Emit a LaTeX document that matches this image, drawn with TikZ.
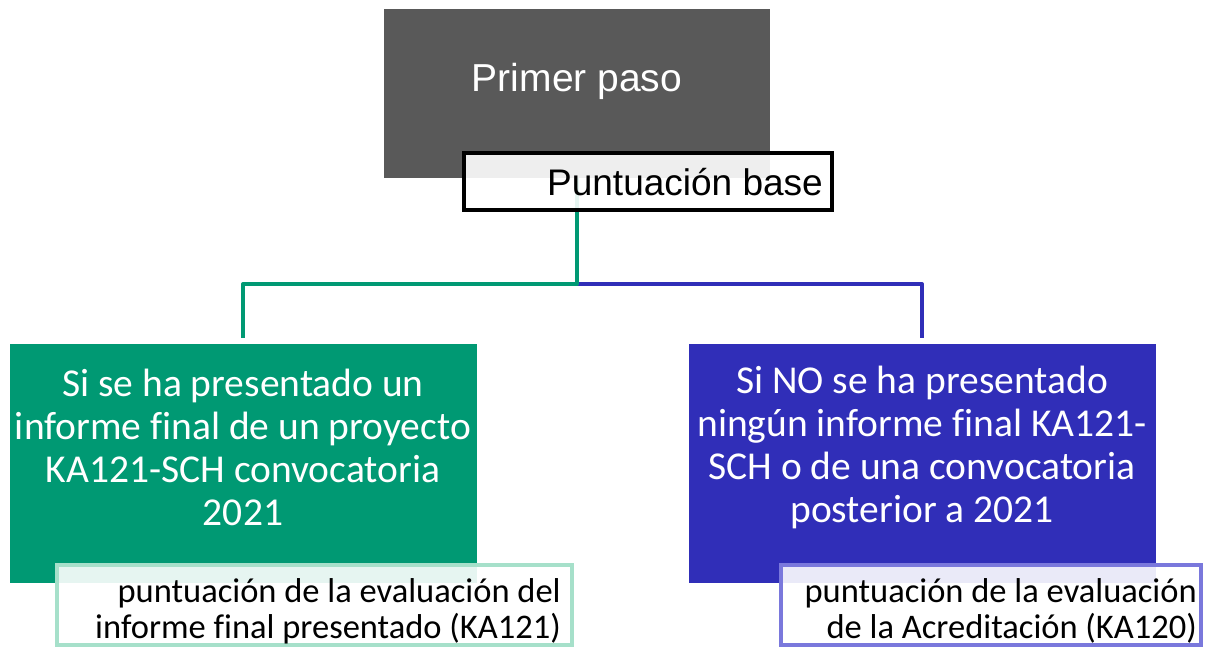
\documentclass[tikz,border=0pt]{standalone}
\usepackage{fontspec}
\setmainfont{Carlito}[Ligatures=NoCommon]
\newfontfamily\arialf{Liberation Sans}
\definecolor{topgrey}{HTML}{595959}
\definecolor{leftgreen}{HTML}{009973}
\definecolor{rightblue}{HTML}{302EB8}
\definecolor{leftlight}{HTML}{A6E0CA}
\definecolor{rightlight}{HTML}{7A78DC}
\tikzset{
  bigbox/.style={rectangle, inner sep=0pt, outer sep=0pt, minimum width=467pt, minimum height=239pt},
  bigtext/.style={text=white, align=center, font=\fontsize{39.5}{43}\selectfont, inner sep=0pt},
  subbox/.style={rectangle, fill=white, fill opacity=0.9, line width=4pt, inner sep=0pt, minimum height=80pt},
  subtext/.style={align=right, font=\fontsize{34.5}{36}\selectfont, inner sep=0pt, anchor=east},
  conn/.style={line width=4pt, line join=round}
}
\begin{document}
\begin{tikzpicture}[x=1pt,y=-1pt]
\useasboundingbox (0,0) rectangle (1206,649);
% top box
\node[rectangle, fill=topgrey, minimum width=386pt, minimum height=169pt, inner sep=0pt, outer sep=0pt] (top) at (577,93.5) {};
\node[text=white, font=\arialf\fontsize{39}{44}\selectfont, inner sep=0pt] (toptext) at (577,81) {Primer paso};
% main boxes
\node[bigbox, fill=leftgreen] (lbox) at (243.5,463.5) {};
\node[bigbox, fill=rightblue] (rbox) at (922.5,463.5) {};
% connectors
\coordinate (j) at (577,284);
\draw[conn, rightblue] (j) -| ([yshift=6pt]rbox.north -| 922,0);
\draw[conn, leftgreen] (top.south) -- (j) -| ([yshift=6pt]lbox.north -| 243,0);
% base box
\node[rectangle, draw=black, line width=4.5pt, fill=white, fill opacity=0.9,
      minimum width=368pt, minimum height=57pt, inner sep=0pt] (base) at (648,181.5) {};
\node[font=\arialf\fontsize{37}{42}\selectfont, inner sep=0pt, anchor=east] (basetext) at (823,182) {Puntuación base};
% main texts
\node[bigtext] (ltext) at (243,447) {Si se ha presentado un\\informe final de un proyecto\\KA121-SCH convocatoria\\2021};
\node[bigtext] (rtext) at (922,447) {Si NO se ha presentado\\ningún informe final KA121-\\SCH o de una convocatoria\\posterior a 2021};
% sub boxes
\node[subbox, draw=leftlight, minimum width=515pt] (lsub) at (314.5,605) {};
\node[subbox, draw=rightlight, minimum width=420pt] (rsub) at (991,605) {};
\node[subtext] (lsubtext) at (561,611) {puntuación de la evaluación del\\informe final presentado (KA121)};
\node[subtext] (rsubtext) at (1197,611) {puntuación de la evaluación\\de la Acreditación (KA120)};
\end{tikzpicture}
\end{document}
